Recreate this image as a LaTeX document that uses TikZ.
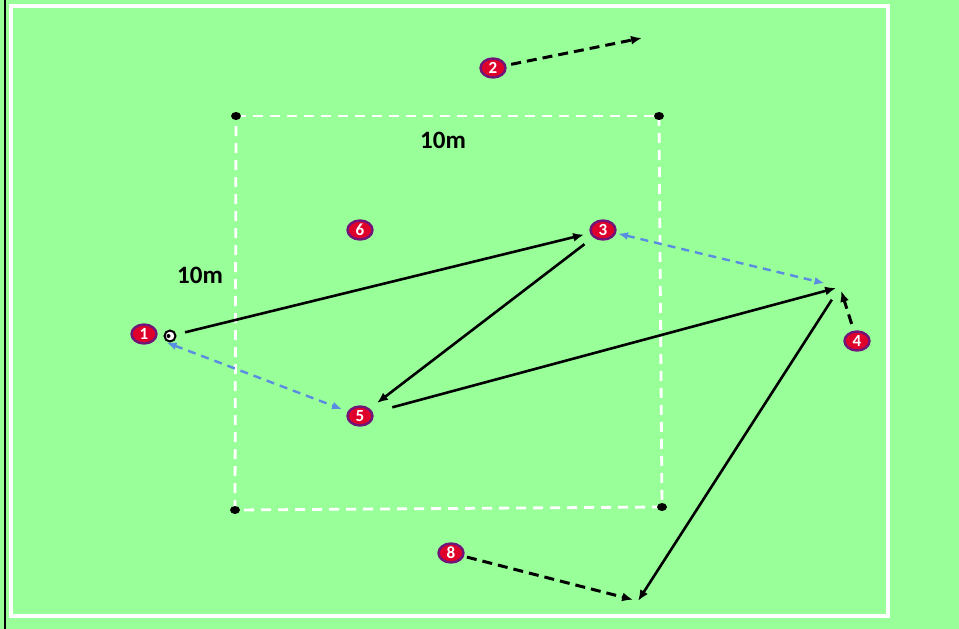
\documentclass[tikz,border=0pt]{standalone}
\usepackage{fontspec}
\setmainfont{Carlito}
\usetikzlibrary{shapes,arrows.meta,positioning}
\definecolor{pitch}{RGB}{153,255,153}
\definecolor{shirt}{RGB}{222,0,42}
\definecolor{rim}{RGB}{112,20,122}
\definecolor{runblue}{RGB}{90,140,225}
\tikzstyle{player} = [ellipse, draw=rim, fill=shirt, line width=2.4pt, minimum width=25pt, minimum height=19pt,
 inner sep=0pt, text=white, font=\bfseries\fontsize{17}{17}\selectfont]
\tikzstyle{cone} = [ellipse, fill=black, minimum width=10pt, minimum height=8pt, inner sep=0pt]
\tikzstyle{pass} = [draw, line width=2.6pt, -{Latex[length=11pt,width=9pt]}]
\tikzstyle{run} = [draw, line width=3pt, dash pattern=on 10pt off 6pt, -{Latex[length=11pt,width=9pt]}]
\tikzstyle{support} = [draw=runblue, line width=2.4pt, dash pattern=on 8pt off 6pt,
 {Latex[length=10pt,width=8pt]}-{Latex[length=10pt,width=8pt]}]
\tikzstyle{grid} = [draw=white, line width=2.8pt, dash pattern=on 10pt off 7pt]
\tikzstyle{dist} = [font=\bfseries\fontsize{25}{25}\selectfont]

\begin{document}
\begin{tikzpicture}[x=1pt,y=-1pt]
        \fill[pitch] (0,0) rectangle (959,629);
        \useasboundingbox (0,0) rectangle (959,629);
        \draw[black, line width=2.2pt] (5,0) -- (5,629);
        \draw[white, line width=3.6pt] (11,6) rectangle (888,616);

        % 10m grid
        \coordinate (tl) at (236,116);
        \coordinate (tr) at (659,116);
        \coordinate (br) at (662,507);
        \coordinate (bl) at (235,510);
        \draw[grid] (tl) -- (tr);
        \draw[grid] (tr) -- (br);
        \draw[grid] (br) -- (bl);
        \draw[grid] (bl) -- (tl);
        \foreach \c in {tl,tr,br,bl}
            \node[cone] at (\c){};
        \node[dist] (top) at (443,140){10m};
        \node[dist] (side) at (200,275){10m};

        \node[player] (p1) at (144,334){1};
        \node[player] (p2) at (493,68){2};
        \node[player] (p3) at (603,230){3};
        \node[player] (p4) at (857,341){4};
        \node[player] (p5) at (360,416){5};
        \node[player] (p6) at (360,230){6};
        \node[player] (p8) at (451,553){8};

        \node[circle, draw, fill=white, line width=2pt, minimum size=11pt, inner sep=0pt] (ball) at (170,336){};
        \fill (ball.center) ++(-1.5,0) circle (2pt);

        % end points of runs
        \coordinate (c2) at (642,38);
        \coordinate (c4) at (840,287);
        \coordinate (c8) at (638,601);

        \path[pass, shorten <=9pt, shorten >=6pt] (ball) -- (p3);
        \path[pass, shorten <=11pt, shorten >=9pt] (p3) -- (p5);
        \path[pass, shorten <=20pt, shorten >=4pt] (p5) -- (c4);
        \path[pass, shorten <=15pt] (c4) -- (c8);

        \path[support, shorten <=11pt, shorten >=6pt] (p1) -- (p5);
        \path[support, shorten <=2pt, shorten >=16pt] (p3) -- (c4);

        \path[run, shorten <=5pt] (p2) -- (c2);
        \path[run, shorten <=7pt, shorten >=4pt] (p4) -- (c4);
        \path[run, shorten <=3pt, shorten >=5pt] (p8) -- (c8);
\end{tikzpicture}
\end{document}
